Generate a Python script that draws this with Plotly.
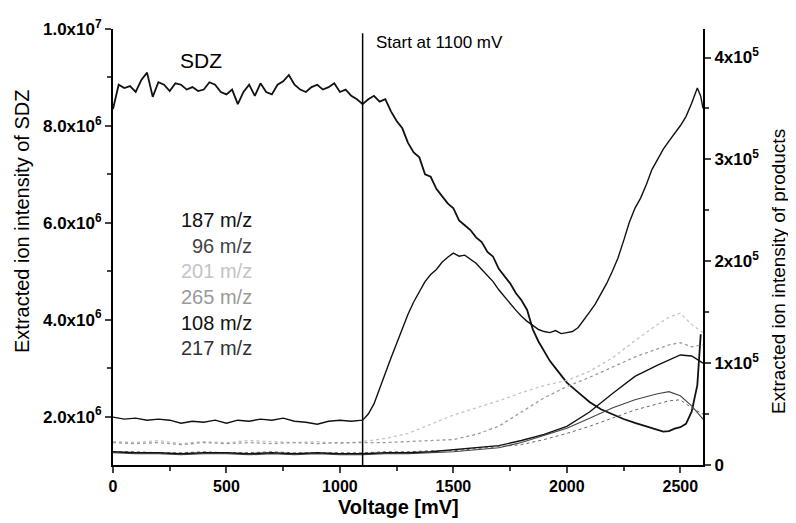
import plotly.graph_objects as go

# SDZ, left axis (x10^6)
sdz_x = [0, 25, 50, 75, 100, 125, 150, 175, 200, 225, 250, 275, 300, 325, 350, 375, 400, 425, 450, 475,
         500, 525, 550, 575, 600, 625, 650, 675, 700, 725, 750, 775, 800, 825, 850, 875, 900, 925, 950, 975,
         1000, 1025, 1050, 1075, 1100, 1125, 1150, 1175, 1200, 1225, 1250, 1275, 1300, 1325, 1350, 1375,
         1400, 1425, 1450, 1475, 1500, 1525, 1550, 1575, 1600, 1625, 1650, 1675, 1700, 1725, 1750, 1775,
         1800, 1825, 1850, 1875, 1900, 1925, 1950, 1975, 2000, 2050, 2100, 2150, 2200, 2250, 2300, 2350,
         2400, 2425, 2450, 2475, 2500, 2525, 2550, 2575, 2590]
sdz_y = [8.35, 8.85, 8.78, 8.82, 8.7, 8.95, 9.1, 8.6, 8.9, 8.85, 8.72, 8.88, 8.85, 8.75, 8.8, 8.72, 8.75, 8.9, 8.85, 8.7,
         8.65, 8.75, 8.45, 8.7, 8.85, 8.62, 8.88, 8.7, 8.65, 8.85, 8.92, 9.05, 8.85, 8.75, 8.7, 8.8, 8.85, 8.75, 8.8, 8.88,
         8.7, 8.75, 8.62, 8.55, 8.45, 8.55, 8.62, 8.5, 8.55, 8.3, 8.1, 7.95, 7.65, 7.45, 7.35, 7.0,
         6.95, 6.7, 6.55, 6.4, 6.3, 6.05, 5.95, 5.85, 5.7, 5.6, 5.4, 5.3, 5.05, 4.9, 4.75, 4.55,
         4.4, 4.2, 3.8, 3.55, 3.35, 3.15, 3.0, 2.85, 2.7, 2.5, 2.3, 2.15, 2.05, 1.95, 1.87, 1.8,
         1.72, 1.69, 1.7, 1.75, 1.78, 1.85, 2.1, 2.65, 3.7]

# products, right axis (x10^5)
p187_x = [0, 50, 100, 150, 200, 250, 300, 350, 400, 450, 500, 550, 600, 650, 700, 750, 800, 850, 900, 950,
          1000, 1050, 1100, 1125, 1150, 1175, 1200, 1225, 1250, 1275, 1300, 1325, 1350, 1375, 1400, 1425,
          1450, 1475, 1500, 1525, 1550, 1575, 1600, 1625, 1650, 1675, 1700, 1725, 1750, 1775, 1800, 1825,
          1850, 1875, 1900, 1925, 1950, 1975, 2000, 2025, 2050, 2075, 2100, 2125, 2150, 2175, 2200, 2225,
          2250, 2275, 2300, 2325, 2350, 2375, 2400, 2425, 2450, 2475, 2500, 2525, 2550, 2575, 2590, 2600]
p187_y = [0.47, 0.45, 0.46, 0.44, 0.45, 0.44, 0.41, 0.43, 0.42, 0.44, 0.41, 0.44, 0.43, 0.45, 0.44, 0.46, 0.43, 0.42, 0.40, 0.43,
          0.44, 0.43, 0.44, 0.5, 0.6, 0.74, 0.9, 1.05, 1.2, 1.35, 1.48, 1.6, 1.7, 1.8, 1.87, 1.92,
          1.99, 2.04, 2.08, 2.05, 2.06, 2.02, 1.98, 1.92, 1.86, 1.8, 1.72, 1.65, 1.58, 1.52, 1.46, 1.41,
          1.37, 1.33, 1.31, 1.30, 1.32, 1.29, 1.30, 1.31, 1.35, 1.42, 1.5, 1.58, 1.68, 1.78, 1.9, 2.03,
          2.2, 2.38, 2.52, 2.62, 2.75, 2.9, 3.0, 3.1, 3.18, 3.25, 3.33, 3.42, 3.55, 3.7, 3.62, 3.5]

prod_x = [0, 100, 200, 300, 400, 500, 600, 700, 800, 900, 1000, 1100, 1200, 1300, 1400, 1500, 1600, 1700,
          1800, 1900, 2000, 2100, 2200, 2300, 2400, 2450, 2500, 2550, 2600]
p201_y = [0.23, 0.22, 0.24, 0.21, 0.23, 0.22, 0.24, 0.23, 0.22, 0.23, 0.21, 0.23, 0.26, 0.31, 0.4, 0.49, 0.56, 0.63,
          0.71, 0.78, 0.83, 0.92, 1.05, 1.22, 1.38, 1.45, 1.49, 1.38, 1.3]
p265_y = [0.22, 0.21, 0.22, 0.2, 0.22, 0.21, 0.22, 0.21, 0.22, 0.21, 0.22, 0.22, 0.22, 0.23, 0.24, 0.25, 0.3, 0.38,
          0.52, 0.66, 0.77, 0.86, 0.96, 1.06, 1.14, 1.18, 1.2, 1.16, 1.18]
p108_y = [0.13, 0.12, 0.12, 0.11, 0.12, 0.12, 0.11, 0.12, 0.11, 0.12, 0.11, 0.11, 0.12, 0.12, 0.13, 0.15, 0.17, 0.19,
          0.24, 0.3, 0.38, 0.52, 0.7, 0.87, 0.98, 1.03, 1.08, 1.07, 1.0]
p217_y = [0.12, 0.11, 0.11, 0.1, 0.11, 0.11, 0.1, 0.11, 0.1, 0.11, 0.1, 0.1, 0.11, 0.11, 0.12, 0.13, 0.15, 0.17,
          0.22, 0.29, 0.36, 0.46, 0.56, 0.64, 0.7, 0.72, 0.68, 0.58, 0.45]
p96_y = [0.13, 0.13, 0.12, 0.12, 0.13, 0.12, 0.12, 0.13, 0.12, 0.12, 0.12, 0.12, 0.13, 0.13, 0.14, 0.14, 0.16, 0.18,
         0.2, 0.25, 0.31, 0.38, 0.46, 0.54, 0.6, 0.63, 0.64, 0.56, 0.5]

labels = ["187 m/z", "96 m/z", "201 m/z", "265 m/z", "108 m/z", "217 m/z"]
label_colors = ["#111111", "#444444", "#c4c4c4", "#9a9a9a", "#111111", "#333333"]

left_ticks = [2e6, 4e6, 6e6, 8e6, 1e7]
left_text = ["<b>2.0x10<sup>6</sup></b>", "<b>4.0x10<sup>6</sup></b>", "<b>6.0x10<sup>6</sup></b>",
             "<b>8.0x10<sup>6</sup></b>", "<b>1.0x10<sup>7</sup></b>"]
right_ticks = [0, 1e5, 2e5, 3e5, 4e5]
right_text = ["<b>0</b>", "<b>1x10<sup>5</sup></b>", "<b>2x10<sup>5</sup></b>", "<b>3x10<sup>5</sup></b>",
              "<b>4x10<sup>5</sup></b>"]
x_ticks = [0, 500, 1000, 1500, 2000, 2500]
x_text = ["<b>%d</b>" % v for v in x_ticks]

FONT = "Arial, Liberation Sans, sans-serif"

fig = go.Figure()
fig.add_trace(go.Scatter(x=sdz_x, y=[v * 1e6 for v in sdz_y], mode="lines",
                         line=dict(color="#111111", width=1.8), name="SDZ"))

prods = [
    (p201_y, "#c4c4c4", 1.3, "dot"),
    (p265_y, "#9a9a9a", 1.3, "dot"),
    (p96_y, "#666666", 1.0, "dot"),
    (p217_y, "#444444", 1.1, "solid"),
    (p108_y, "#111111", 1.4, "solid"),
]
for ys, c, w, d in prods:
    fig.add_trace(go.Scatter(x=prod_x, y=[v * 1e5 for v in ys], mode="lines", yaxis="y2",
                             line=dict(color=c, width=w, dash=d)))
fig.add_trace(go.Scatter(x=p187_x, y=[v * 1e5 for v in p187_y], mode="lines", yaxis="y2",
                         line=dict(color="#111111", width=1.4)))

fig.add_shape(type="line", x0=1100, x1=1100, y0=0, y1=0.99, xref="x", yref="paper",
              line=dict(color="black", width=1.5))

fig.add_annotation(x=1150, y=0.968, xref="x", yref="paper", text="Start at 1100 mV", showarrow=False,
                   xanchor="left", yanchor="middle", font=dict(size=17, color="black"))
fig.add_annotation(x=388, y=9.34e6, xref="x", yref="y", text="SDZ", showarrow=False,
                   font=dict(size=21, color="black"))
for i, (t, c) in enumerate(zip(labels, label_colors)):
    fig.add_annotation(x=620, y=6.06e6 - i * 0.53e6, xref="x", yref="y", text=t, showarrow=False,
                       xanchor="right", yanchor="middle", font=dict(size=20, color=c))

# axis titles
fig.add_annotation(x=0, y=0.5, xref="paper", yref="paper", xanchor="center", yanchor="middle",
                   xshift=-91, yshift=25, textangle=-90,
                   text="Extracted ion intensity of SDZ", showarrow=False, font=dict(size=20))
fig.add_annotation(x=1, y=0.5, xref="paper", yref="paper", xanchor="center", yanchor="middle",
                   xshift=75, yshift=-25, textangle=-90,
                   text="Extracted ion intensity of products", showarrow=False, font=dict(size=19))
fig.add_annotation(x=0.5, y=0, xref="paper", yref="paper", xanchor="center", yanchor="middle",
                   xshift=-10, yshift=-42,
                   text="<b>Voltage [mV]</b>", showarrow=False, font=dict(size=20))

# the page body adds an 8px offset, so the figure is drawn 8px smaller
fig.update_layout(
    width=788, height=515,
    margin=dict(l=105, r=93, t=21, b=58),
    paper_bgcolor="white", plot_bgcolor="white",
    showlegend=False,
    font=dict(family=FONT, color="black"),
    xaxis=dict(range=[0, 2600], tickvals=x_ticks, ticktext=x_text, ticks="outside", ticklen=6, tickwidth=2,
               showline=True, linecolor="black", linewidth=2, showgrid=False, zeroline=False, automargin=False,
               tickfont=dict(size=16, color="black"),
               minor=dict(tickvals=[250, 750, 1250, 1750, 2250], ticks="outside", ticklen=4, tickwidth=2)),
    yaxis=dict(range=[1e6, 1e7], tickvals=left_ticks, ticktext=left_text, ticks="outside", ticklen=6,
               tickwidth=2, showline=True, linecolor="black", linewidth=2, showgrid=False, zeroline=False,
               automargin=False, tickfont=dict(size=17, color="black"),
               minor=dict(tickvals=[3e6, 5e6, 7e6, 9e6], ticks="outside", ticklen=4, tickwidth=2)),
    yaxis2=dict(range=[0, 4.28e5], overlaying="y", side="right", tickvals=right_ticks, ticktext=right_text,
                ticks="outside", ticklen=6, tickwidth=2, showline=True, linecolor="black", linewidth=2,
                showgrid=False, zeroline=False, automargin=False, tickfont=dict(size=17, color="black"),
                minor=dict(tickvals=[5e4, 1.5e5, 2.5e5, 3.5e5], ticks="outside", ticklen=4, tickwidth=2)),
)

fig.write_html("out.html")
